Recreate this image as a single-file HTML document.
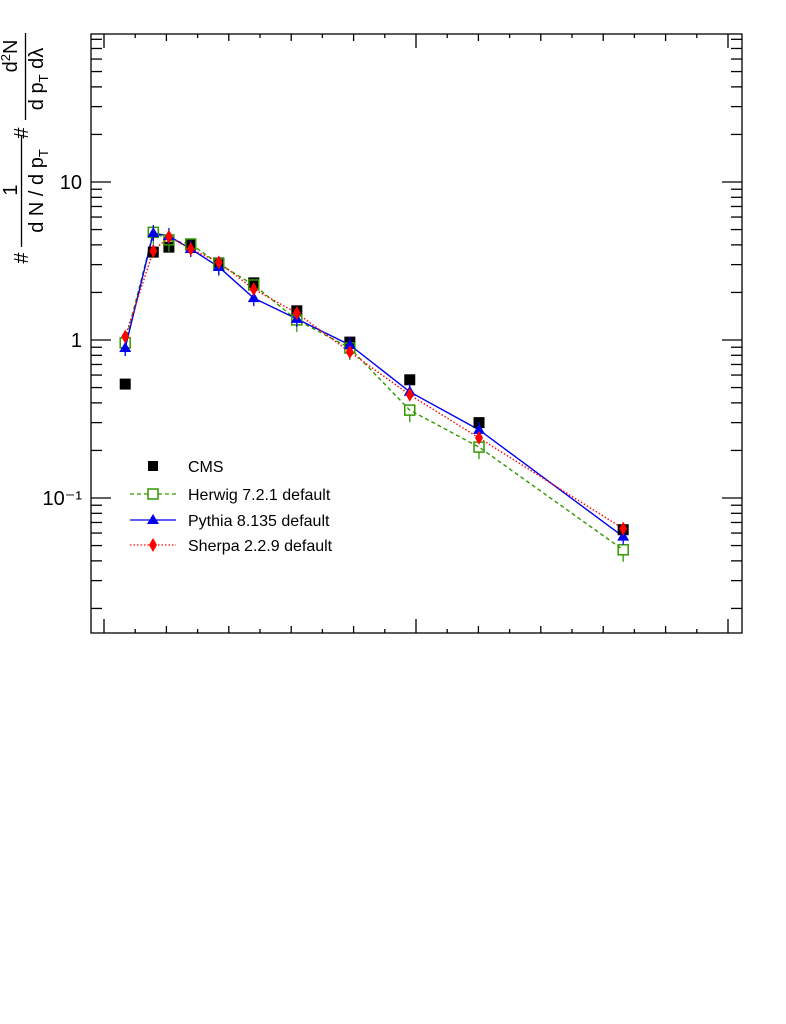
<!DOCTYPE html>
<html><head><meta charset="utf-8"><style>
html,body{margin:0;padding:0;background:#fff;}
svg{display:block;font-family:"Liberation Sans",sans-serif;}
</style></head><body>
<svg id="chart" width="786" height="1024" viewBox="0 0 786 1024">
<rect x="91" y="34" width="651" height="599" fill="none" stroke="#000" stroke-width="1.3"/>
<g id="ticks"></g>
<g id="series"></g>
<g transform="rotate(-90)" font-size="20">
<text x="-258" y="28" text-anchor="middle">#</text>
<text x="-190" y="17" text-anchor="middle">1</text>
<line x1="-247" y1="21.5" x2="-135" y2="21.5" stroke="#000" stroke-width="1.3"/>
<text x="-191" y="43" text-anchor="middle">d N / d p<tspan font-size="13" dy="5">T</tspan></text>
<text x="-133" y="28" text-anchor="middle">#</text>
<text x="-56" y="17" text-anchor="middle">d<tspan font-size="13" dy="-7">2</tspan><tspan dy="7">N</tspan></text>
<line x1="-120" y1="25.5" x2="-33" y2="25.5" stroke="#000" stroke-width="1.3"/>
<text x="-79" y="43" text-anchor="middle">d p<tspan font-size="13" dy="5">T</tspan><tspan dy="-5"> dλ</tspan></text>
</g>
<g font-size="16">
<rect x="148" y="461" width="10" height="10" fill="#000"/>
<text x="188" y="472">CMS</text>
<line x1="130" y1="494" x2="176" y2="494" stroke="#339900" stroke-width="1.3" stroke-dasharray="4,3"/>
<rect x="148" y="489" width="10" height="10" fill="#fff" stroke="#339900" stroke-width="1.5"/>
<text x="188" y="500">Herwig 7.2.1 default</text>
<line x1="130" y1="520" x2="176" y2="520" stroke="#0000ee" stroke-width="1.3"/>
<polygon points="153,514 159,524 147,524" fill="#0000ee"/>
<text x="188" y="526">Pythia 8.135 default</text>
<line x1="130" y1="545" x2="176" y2="545" stroke="#ff0000" stroke-width="1.3" stroke-dasharray="1.5,2"/>
<polygon points="153,538 157,545 153,552 149,545" fill="#ff0000"/>
<text x="188" y="551">Sherpa 2.2.9 default</text>
</g>
</svg>
<script>
const binCenters = [0.034, 0.079, 0.104, 0.139, 0.184, 0.240, 0.309, 0.394, 0.490, 0.601, 0.832];
const cmsValues = [0.526, 3.6, 3.87, 4.0, 3.07, 2.3, 1.53, 0.97, 0.56, 0.30, 0.063];
const herwigValues = [0.96, 4.8, 4.3, 4.05, 3.03, 2.23, 1.34, 0.89, 0.36, 0.21, 0.047];
const pythiaValues = [0.89, 4.75, 4.55, 3.77, 2.9, 1.84, 1.36, 0.93, 0.47, 0.27, 0.057];
const sherpaValues = [1.05, 3.66, 4.5, 3.77, 3.1, 2.1, 1.48, 0.84, 0.45, 0.24, 0.064];
const yTickLabels = ["10\u207B\u00B9", "1", "10"];
const yTickValues = [0.1, 1, 10];

const NS = "http://www.w3.org/2000/svg";
function X(v){ return 104 + v * 624; }
function Y(v){ return 340 - Math.log10(v) * 158; }
function mk(tag, attrs, parent){
  const e = document.createElementNS(NS, tag);
  for (const k in attrs) e.setAttribute(k, attrs[k]);
  parent.appendChild(e); return e;
}
const ticks = document.getElementById('ticks');
// y ticks
for (let d = -2; d <= 1; d++) {
  for (let m = 1; m <= 9; m++) {
    const v = m * Math.pow(10, d);
    const y = Y(v);
    if (y < 34 || y > 633) continue;
    const len = m === 1 ? 20 : 11;
    mk('line', {x1: 91, y1: y, x2: 91 + len, y2: y, stroke: '#000', 'stroke-width': 1.3}, ticks);
    mk('line', {x1: 742, y1: y, x2: 742 - len, y2: y, stroke: '#000', 'stroke-width': 1.3}, ticks);
  }
}
yTickValues.forEach((v, i) => {
  const t = mk('text', {x: 82, y: Y(v) + 7, 'text-anchor': 'end', 'font-size': 20}, ticks);
  
  
  t.textContent = yTickLabels[i];
});
// x ticks
for (let i = 0; i <= 20; i++) {
  const x = X(i * 0.05);
  const len = i % 10 === 0 ? 14 : (i % 2 === 0 ? 7 : 4);
  mk('line', {x1: x, y1: 633, x2: x, y2: 633 - len, stroke: '#000', 'stroke-width': 1.3}, ticks);
  mk('line', {x1: x, y1: 34, x2: x, y2: 34 + len, stroke: '#000', 'stroke-width': 1.3}, ticks);
}
const series = document.getElementById('series');
function drawLine(vals, color, dash, name){
  const pts = vals.map((v, i) => X(binCenters[i]) + ',' + Y(v)).join(' ');
  const p = mk('polyline', {points: pts, fill: 'none', stroke: color, 'stroke-width': 1.4, 'stroke-dasharray': dash}, series);
  
  
}
drawLine(herwigValues, '#339900', '4,3', 'herwig-line');
drawLine(pythiaValues, '#0000ee', 'none', 'pythia-line');
drawLine(sherpaValues, '#ff0000', '1.5,2', 'sherpa-line');
cmsValues.forEach((v, i) => {
  const r = mk('rect', {x: X(binCenters[i]) - 5.5, y: Y(v) - 5.5, width: 11, height: 11, fill: '#000'}, series);
  
  
});
herwigValues.forEach((v, i) => {
  const x = X(binCenters[i]), y = Y(v);
  mk('line', {x1: x, y1: y + 5, x2: x, y2: y + 12, stroke: '#339900', 'stroke-width': 1.3}, series);
  const r = mk('rect', {x: x - 5, y: y - 5, width: 10, height: 10, fill: 'none', stroke: '#339900', 'stroke-width': 1.5}, series);
  
  
});
pythiaValues.forEach((v, i) => {
  const x = X(binCenters[i]), y = Y(v);
  mk('line', {x1: x, y1: y - 8, x2: x, y2: y + 8, stroke: '#0000ee', 'stroke-width': 1.3}, series);
  const p = mk('polygon', {points: `${x},${y-6} ${x+6},${y+4} ${x-6},${y+4}`, fill: '#0000ee'}, series);
  
  
});
sherpaValues.forEach((v, i) => {
  const x = X(binCenters[i]), y = Y(v);
  const p = mk('polygon', {points: `${x},${y-7} ${x+4},${y} ${x},${y+7} ${x-4},${y}`, fill: '#ff0000'}, series);
  
  
});
</script>
</body></html>
